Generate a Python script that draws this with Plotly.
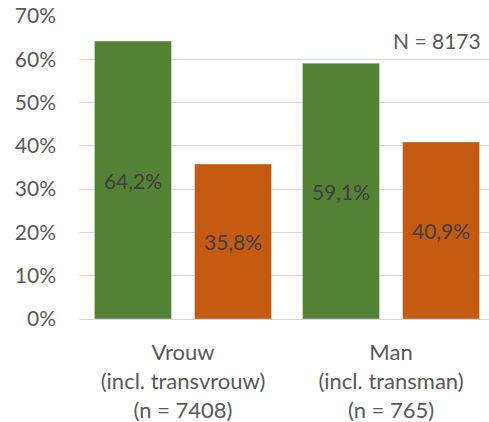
import plotly.graph_objects as go

categories = ["Vrouw<br>(incl. transvrouw)<br>(n = 7408)", "Man<br>(incl. transman)<br>(n = 765)"]
series_names = ["Vrouw-deel", "Man-deel"]
green_values = [64.2, 59.1]
orange_values = [35.8, 40.9]
y_ticks = [0, 10, 20, 30, 40, 50, 60, 70]

FONT = "Lato, sans-serif"


def pct_label(v):
    return f"{v:.1f}%".replace(".", ",")


fig = go.Figure()
fig.add_trace(go.Bar(x=categories, y=green_values, name=series_names[0], marker_color="#548235",
                     marker_line=dict(width=1, color="rgba(255,255,255,0.35)"),
                     text=[pct_label(v) for v in green_values], textposition="inside", insidetextanchor="middle",
                     textfont=dict(color="#404040", size=21, family=FONT)))
fig.add_trace(go.Bar(x=categories, y=orange_values, name=series_names[1], marker_color="#C55A11",
                     marker_line=dict(width=1, color="rgba(255,255,255,0.35)"),
                     text=[pct_label(v) for v in orange_values], textposition="inside", insidetextanchor="middle",
                     textfont=dict(color="#404040", size=21, family=FONT)))

# sample size note, top right
fig.add_annotation(text="N = 8173", xref="paper", yref="y", x=0.985, y=64.4, xanchor="right", yanchor="middle",
                   showarrow=False, font=dict(color="#595959", size=21, family=FONT))

fig.update_layout(
    width=489,
    height=422,
    margin=dict(l=79, r=0, t=16, b=103),
    plot_bgcolor="white",
    paper_bgcolor="white",
    barmode="group",
    bargap=0.038,
    bargroupgap=0.23,
    showlegend=False,
    font=dict(family=FONT, size=21, color="#595959"),
)
fig.update_yaxes(range=[0, 70], tickvals=y_ticks, ticktext=[f"{v}%" for v in y_ticks], showgrid=True,
                 gridcolor="#d9d9d9", gridwidth=1, zeroline=False, showline=False, ticklabelstandoff=22,
                 tickfont=dict(size=21, color="#595959"))
fig.update_xaxes(range=[-0.5, 1.471], showline=True, linecolor="#d9d9d9", linewidth=1, ticks="",
                 ticklabelstandoff=14, tickfont=dict(size=22, color="#595959"))

fig.write_html("out.html", config={"displayModeBar": False}, post_script="document.body.style.margin='0';")
